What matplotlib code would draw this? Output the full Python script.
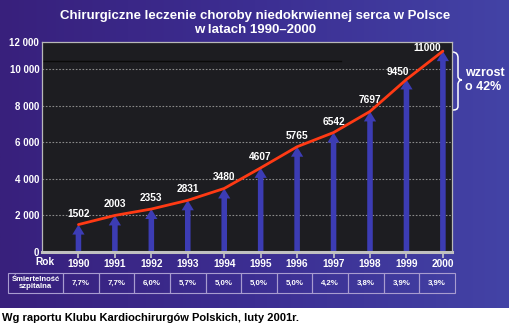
"""Chirurgiczne leczenie choroby niedokrwiennej serca w Polsce 1990-2000."""

import matplotlib
matplotlib.use("Agg")
import matplotlib.pyplot as plt
import numpy as np
from matplotlib.path import Path
from matplotlib.patches import PathPatch, Rectangle
from matplotlib.colors import LinearSegmentedColormap

plt.rcParams["font.family"] = ["Liberation Sans", "DejaVu Sans"]
plt.rcParams["font.weight"] = "bold"

# --- data ---
years = [1990, 1991, 1992, 1993, 1994, 1995, 1996, 1997, 1998, 1999, 2000]
operations = [1502, 2003, 2353, 2831, 3480, 4607, 5765, 6542, 7697, 9450, 11000]
mortality = ["7,7%", "7,7%", "6,0%", "5,7%", "5,0%", "5,0%", "5,0%",
             "4,2%", "3,8%", "3,9%", "3,9%"]
ytick_values = [0, 2000, 4000, 6000, 8000, 10000]
ytick_labels = ["0", "2 000", "4 000", "6 000", "8 000", "10 000", "12 000"]

title = "Chirurgiczne leczenie choroby niedokrwiennej serca w Polsce\nw latach 1990\u20132000"
source = "Wg raportu Klubu Kardiochirurgów Polskich, luty 2001r."

# label offsets in pixels (dx, dy), mostly centred above the point
label_offsets = [(0, 6)] * 9 + [(-9, 2), (-16, -2)]

W, H = 510, 328
fig = plt.figure(figsize=(W / 100, H / 100), dpi=100, facecolor="white")

# background layer in pixel coordinates
bg = fig.add_axes([0, 0, 1, 1])
bg.set_xlim(0, W)
bg.set_ylim(H, 0)
bg.axis("off")
cmap = LinearSegmentedColormap.from_list("bg", ["#38207c", "#3c2e92", "#4343a6"])
grad = np.linspace(0, 1, 256).reshape(1, -1)
bg.imshow(grad, cmap=cmap, extent=(0, W, 308, 0), aspect="auto", zorder=0)

bg.text(W / 2, 23, title, color="white", ha="center", va="center",
        fontsize=9.5, linespacing=1.2)

# mortality table
cell_y0, cell_y1 = 273, 293
first_x0, first_x1, last_x1 = 8, 63, 455
cell_w = (last_x1 - first_x1) / len(years)
edge = "#a89cd0"
bg.add_patch(Rectangle((first_x0, cell_y0), first_x1 - first_x0, cell_y1 - cell_y0,
                       fill=False, edgecolor=edge, lw=0.8, zorder=2))
bg.text((first_x0 + first_x1) / 2, (cell_y0 + cell_y1) / 2,
        "Śmiertelność\nszpitalna", color="white", ha="center", va="center",
        fontsize=5.6, linespacing=1.15)
for i, m in enumerate(mortality):
    x0 = first_x1 + i * cell_w
    bg.add_patch(Rectangle((x0, cell_y0), cell_w, cell_y1 - cell_y0,
                           fill=False, edgecolor=edge, lw=0.8, zorder=2))
    bg.text(x0 + cell_w / 2, (cell_y0 + cell_y1) / 2, m, color="white",
            ha="center", va="center", fontsize=5.7)

bg.text(45, 262, "Rok", color="white", ha="center", va="center", fontsize=7.3)
bg.text(2, 318, source, color="black", ha="left", va="center", fontsize=8)

# brace showing the growth
verts = [(452, 52), (457, 52), (458, 55), (458, 58),
         (458, 76), (458, 76), (458, 76),
         (458, 80), (462, 80), (462, 80),
         (458, 80), (458, 84), (458, 84),
         (458, 106), (458, 106), (458, 106),
         (458, 110), (455, 110), (452, 110)]
codes = [Path.MOVETO, Path.CURVE4, Path.CURVE4, Path.CURVE4,
         Path.LINETO, Path.LINETO, Path.LINETO,
         Path.CURVE4, Path.CURVE4, Path.CURVE4,
         Path.CURVE4, Path.CURVE4, Path.CURVE4,
         Path.LINETO, Path.LINETO, Path.LINETO,
         Path.CURVE4, Path.CURVE4, Path.CURVE4]
bg.add_patch(PathPatch(Path(verts, codes), fill=False, edgecolor="white",
                       lw=1.1, zorder=5))
bg.plot([387, 453], [110, 110], color="#d8d8d8", lw=1.1, zorder=5)
bg.text(465, 80, "wzrost\no 42%", color="white", ha="left", va="center",
        fontsize=9, linespacing=1.3, zorder=5)

# main chart
ax = fig.add_axes([42 / W, (H - 252) / H, 410 / W, 210 / H])
ax.set_facecolor("#1d1d21")
ax.set_xlim(1989.0, 2000.25)
ax.set_ylim(0, 11500)

for v in ytick_values[1:]:
    ax.axhline(v, color="#8a8a8a", lw=0.8, ls=(0, (1.5, 1.5)), zorder=1)
ax.axhline(10450, xmax=0.73, color="#0a0a0a", lw=1.0, zorder=1)

for x, v in zip(years, operations):
    ax.annotate("", xy=(x, v), xytext=(x, 0),
                arrowprops=dict(arrowstyle="simple,head_length=0.9,head_width=1.1,tail_width=0.5",
                                mutation_scale=8, facecolor="#3c3cb4", lw=0,
                                shrinkA=0, shrinkB=0),
                zorder=2)

ax.plot(years, operations, color="#ff3a14", lw=2.0, zorder=4, solid_capstyle="round")

for x, v, (dx, dy) in zip(years, operations, label_offsets):
    ax.annotate(str(v), xy=(x, v), xytext=(dx, dy), textcoords="offset pixels",
                ha="center", va="bottom", color="white", fontsize=7.3, zorder=6)

ax.set_xticks(years)
ax.set_xticklabels([str(y) for y in years], color="white", fontsize=7.3)
ax.set_yticks(ytick_values + [ax.get_ylim()[1]])
ax.set_yticklabels(ytick_labels, color="white", fontsize=7)
ax.tick_params(axis="x", colors="#c8c8c8", length=4, width=1.2, pad=1,
               labelcolor="white")
ax.tick_params(axis="y", length=0, pad=2, labelcolor="white")
for side, sp in ax.spines.items():
    sp.set_color("#b8b8b8")
    sp.set_linewidth(0.9)
ax.spines["bottom"].set_linewidth(2.2)
ax.spines["bottom"].set_color("#c0c0c0")

fig.savefig("out.png", dpi=100, facecolor="white")
